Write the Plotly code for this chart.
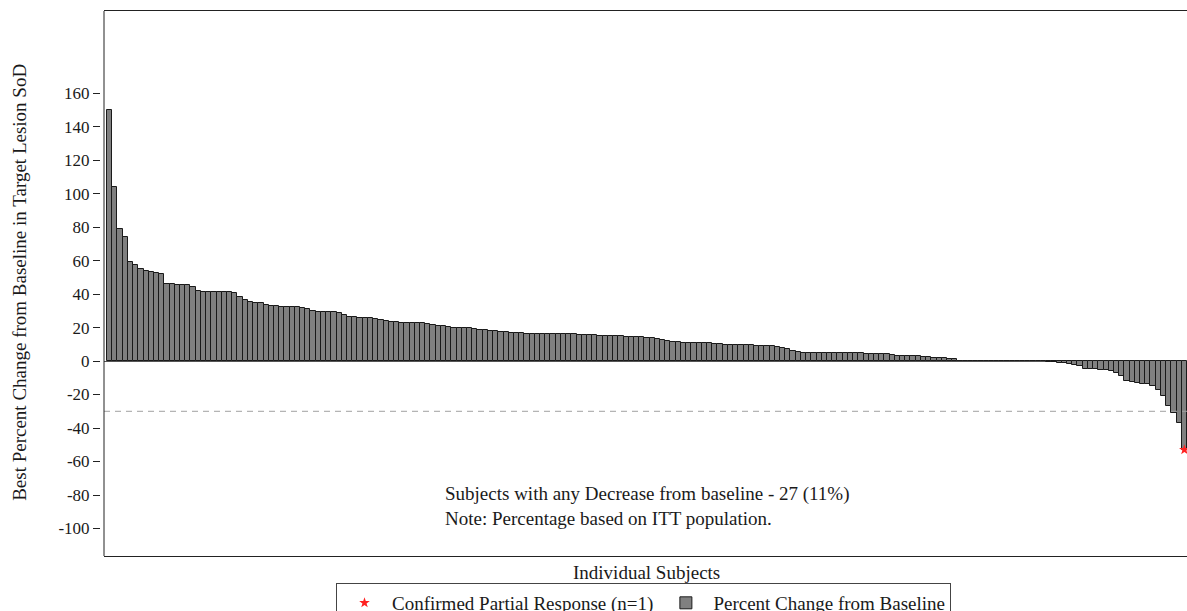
import plotly.graph_objects as go

# ---------------- data ----------------
best_pct_change = [
    150, 104, 79, 74, 59, 57.5, 55, 54, 53, 52.5, 52,
    46, 46, 45.5, 45.5, 45.5, 44.5,
    42, 41.5, 41.5, 41.5, 41, 41, 41, 40.5,
    38, 36.5,
    35, 34.5, 34.5,
    33.5, 33, 33, 32.5, 32.5,
    32, 32, 31.5, 31,
    30,
    29.5, 29, 29, 29, 28.5,
    27.5,
    26.5, 26.5, 26,
    25.5, 25.5, 25,
    24.5, 24,
    23.5, 23.5, 23, 23, 23, 22.5, 22.5, 22,
    21.5, 21, 21,
    20.5, 20, 20,
    19.5, 19.5,
    19, 18.5, 18.5, 18, 18,
    17.5, 17.5, 17, 17,
    16.5, 16, 16, 16, 16, 16, 16, 16, 16, 16, 16, 15.8, 15.5, 15.5, 15.5,
    15, 15, 15, 15, 15, 14.5, 14.5, 14.5, 14.5, 14, 14,
    13, 12.5, 12,
    11.5, 11.5, 11, 11, 11, 10.5, 10.5, 10.5,
    10, 10, 9.5, 9.5, 9.5, 9.5, 9.5, 9.5, 9, 9, 9, 9,
    8.5, 7.5, 7, 6,
    5.5, 5, 5, 5, 5, 5, 5, 5, 5, 5, 4.8, 4.8, 4.8, 4.5,
    4.2, 4, 4, 4,
    3.5, 3, 3, 3, 3, 2.8,
    2.5, 2.2, 2, 2, 2,
    1.5, 1,
    0, 0, 0, 0, 0, 0, 0, 0, 0, 0, 0, 0, 0, 0, 0, 0, 0,
    -0.5, -0.5, -1, -1, -1.5, -2.5, -3, -5, -5, -5, -5.5, -5.5, -6,
    -7, -9, -12, -12.5, -13, -13.5, -14, -15, -17, -21, -27, -31, -37, -53,
]
subjects = list(range(len(best_pct_change)))

pr_subjects = [206]
pr_values = [-53]

y_tick_values = [-100, -80, -60, -40, -20, 0, 20, 40, 60, 80, 100, 120, 140, 160]
y_tick_labels = ["-100", "-80", "-60", "-40", "-20", "0", "20", "40", "60",
                 "80", "100", "120", "140", "160"]
pr_threshold = -30

annotation_lines = [
    "Subjects with any Decrease from baseline - 27 (11%)",
    "Note: Percentage based on ITT population.",
]

FONT = "Liberation Serif"
TXT = "#1a1a1a"

fig = go.Figure()

fig.add_trace(go.Bar(
    x=subjects, y=best_pct_change,
    name="Percent Change from Baseline",
    marker=dict(color="#808080", line=dict(color="#1a1a1a", width=1)),
    legendrank=2,
))

fig.add_trace(go.Scatter(
    x=pr_subjects, y=pr_values, mode="markers",
    name="Confirmed Partial Response (n=1)",
    marker=dict(symbol="star", color="#ff2020", size=8),
    legendrank=1,
))

fig.add_shape(type="line", xref="x domain", yref="y",
              x0=0, x1=1, y0=pr_threshold, y1=pr_threshold,
              line=dict(color="#a0a0a0", width=1, dash="6px,5px"))

# left frame line
fig.add_shape(type="line", xref="x domain", yref="y domain",
              x0=0, x1=0, y0=0, y1=1,
              line=dict(color="#222", width=1))

fig.add_annotation(text=annotation_lines[0], xref="paper", yref="paper",
                   x=0.3156, y=0.1138, xanchor="left", yanchor="middle",
                   showarrow=False, font=dict(family=FONT, size=19, color=TXT))
fig.add_annotation(text=annotation_lines[1], xref="paper", yref="paper",
                   x=0.3156, y=0.0679, xanchor="left", yanchor="middle",
                   showarrow=False, font=dict(family=FONT, size=19, color=TXT))

fig.add_annotation(text="Individual Subjects", xref="paper", yref="paper",
                   x=0.503, y=-0.0294, xanchor="center", yanchor="middle",
                   showarrow=False, font=dict(family=FONT, size=19, color=TXT))
fig.add_annotation(text="Best Percent Change from Baseline in Target Lesion SoD",
                   xref="paper", yref="paper", textangle=-90,
                   x=-0.0736, y=0.503, xanchor="center", yanchor="middle",
                   showarrow=False, font=dict(family=FONT, size=19, color=TXT))

fig.update_layout(
    width=1187, height=611,
    margin=dict(l=100, r=0, t=11, b=55, autoexpand=False),
    paper_bgcolor="white", plot_bgcolor="white",
    bargap=0,
    font=dict(family=FONT, size=17, color=TXT),
    showlegend=True,
    legend=dict(orientation="h", x=0.5, xanchor="center",
                y=-0.0495, yanchor="top",
                bordercolor="#444", borderwidth=1,
                itemwidth=45,
                font=dict(family=FONT, size=19, color=TXT),
                traceorder="normal"),
    xaxis=dict(domain=[4 / 1087, 1], range=[-1.07, 206.5],
               showticklabels=False, ticks="", showgrid=False, zeroline=False,
               showline=True, mirror=True, linecolor="#222", linewidth=1),
    yaxis=dict(anchor="free", position=0, range=[-116.4, 209],
               tickvals=y_tick_values, ticktext=y_tick_labels,
               ticks="outside", ticklen=7,
               tickcolor="#222", tickwidth=1,
               showgrid=False, showline=False,
               zeroline=True, zerolinecolor="#555", zerolinewidth=1,
               tickfont=dict(family=FONT, size=17, color=TXT)),
)

fig.write_html(
    "out.html",
    config={"displayModeBar": False},
    post_script="document.body.style.margin='0';"
                "document.body.style.overflow='hidden';",
)
